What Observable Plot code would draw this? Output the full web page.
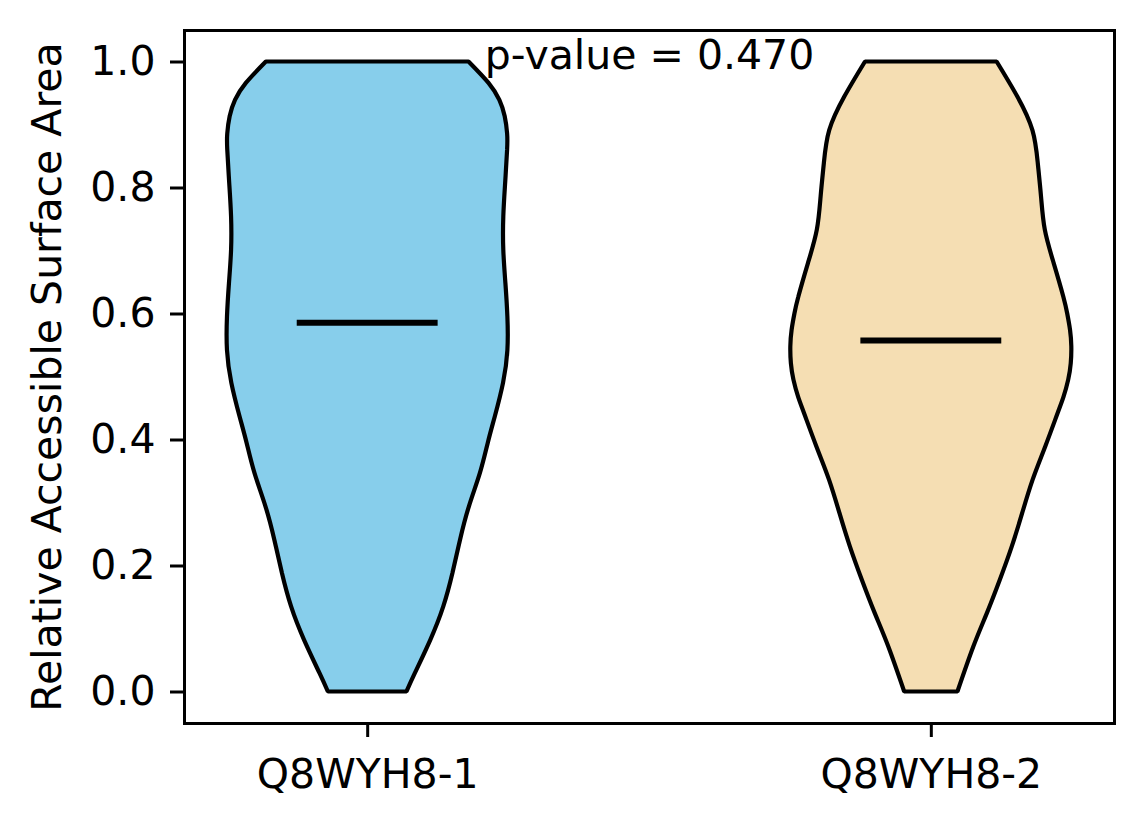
<!DOCTYPE html>
<html>
<head>
<meta charset="utf-8">
<script src="https://cdn.jsdelivr.net/npm/d3@7"></script>
<script src="https://cdn.jsdelivr.net/npm/@observablehq/plot@0.6"></script>
<style>
  html, body { margin: 0; padding: 0; background: #fff; }
  #chart svg { display: block; }
</style>
</head>
<body>
<div id="chart"></div>
<script>
// Categories and positions
const categories = ["Q8WYH8-1", "Q8WYH8-2"];
const positions = [1, 2];
const fills = ["#87CEEB", "#F5DEB3"];

// Violin outlines: value (RSA) and relative density width (1 = widest)
const violin1Y = [0.000, 0.029, 0.082, 0.135, 0.188, 0.241, 0.294, 0.347, 0.395, 0.437, 0.490, 0.542, 0.595, 0.648, 0.701, 0.754, 0.807, 0.860, 0.886, 0.913, 0.939, 0.966, 1.000];
const violin1W = [0.279, 0.338, 0.448, 0.540, 0.605, 0.659, 0.722, 0.800, 0.856, 0.906, 0.964, 0.995, 0.995, 0.981, 0.966, 0.966, 0.979, 0.993, 0.993, 0.976, 0.938, 0.861, 0.719];
const violin2Y = [0.000, 0.071, 0.124, 0.177, 0.230, 0.283, 0.336, 0.389, 0.442, 0.468, 0.495, 0.521, 0.548, 0.574, 0.600, 0.627, 0.680, 0.733, 0.786, 0.839, 0.891, 0.944, 1.000];
const violin2W = [0.189, 0.301, 0.397, 0.489, 0.574, 0.648, 0.722, 0.812, 0.900, 0.942, 0.975, 0.993, 0.997, 0.988, 0.968, 0.940, 0.872, 0.809, 0.782, 0.759, 0.721, 0.615, 0.467];

// Means
const means = [0.586, 0.558];

// Annotation
const pValue = 0.470;

// Tick values
const yTicks = [0.0, 0.2, 0.4, 0.6, 0.8, 1.0];

const halfWidth = 0.25;   // violin widths = 0.5
const meanHalf = 0.125;

const violinRows = [];
[[violin1Y, violin1W], [violin2Y, violin2W]].forEach(([ys, ws], i) => {
  ys.forEach((y, j) => violinRows.push({cat: categories[i], pos: positions[i], y, w: ws[j]}));
});
const meanRows = means.map((m, i) => ({cat: categories[i], pos: positions[i], m}));

const font = "DejaVu Sans";
const fs = 41;

const chart = Plot.plot({
  width: 1144,
  height: 824,
  marginLeft: 184,
  marginRight: 30,
  marginTop: 30,
  marginBottom: 101,
  style: {fontFamily: font, fontSize: fs + "px", background: "#fff", color: "#000"},
  x: {type: "linear", domain: [0.675, 2.325]},
  y: {domain: [-0.05, 1.05]},
  marks: [
    ...categories.map((c, i) => Plot.areaX(violinRows.filter(d => d.cat === c), {
      y: "y",
      x1: d => d.pos - halfWidth * d.w,
      x2: d => d.pos + halfWidth * d.w,
      fill: fills[i],
      stroke: "#000",
      strokeWidth: 4.2,
      strokeLinejoin: "miter",
      curve: "natural"
    })),
    Plot.ruleY(meanRows, {y: "m", x1: d => d.pos - meanHalf, x2: d => d.pos + meanHalf, stroke: "#000", strokeWidth: 6}),
    Plot.text([{x: 1.5, y: 1.0, t: `p-value = ${pValue.toFixed(3)}`}], {
      x: "x", y: "y", text: "t", textAnchor: "middle", lineAnchor: "bottom", dy: 7,
      fontSize: fs, fontFamily: font, fill: "#000"
    }),
    Plot.axisY({ticks: yTicks, tickFormat: d => d.toFixed(1), tickSize: 14, tickPadding: 15, strokeWidth: 3, fontSize: fs, fontFamily: font, label: null}),
    Plot.axisX({ticks: positions, tickFormat: d => categories[d - 1], tickSize: 14, tickPadding: 21, strokeWidth: 3, fontSize: fs, fontFamily: font, label: null}),
    Plot.text(["Relative Accessible Surface Area"], {
      frameAnchor: "left", rotate: -90, dx: -137, text: d => d, textAnchor: "middle",
      fontSize: fs, fontFamily: font, fill: "#000"
    }),
    Plot.frame({stroke: "#000", strokeWidth: 3})
  ]
});
document.getElementById("chart").appendChild(chart);
</script>
</body>
</html>
